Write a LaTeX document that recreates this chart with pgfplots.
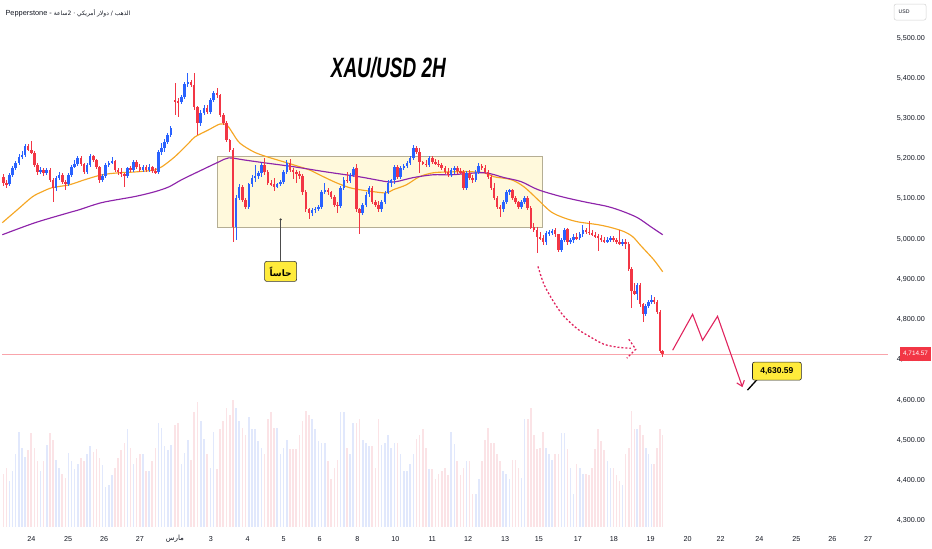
\documentclass[border=0pt]{standalone}
\usepackage{fontspec}
\setmainfont{Liberation Sans}
\newfontfamily\arabicfont[Script=Arabic]{DejaVu Sans}
\usepackage{pgfplots}
\pgfplotsset{compat=1.18}
\usepackage{pgfplotstable}
\usetikzlibrary{arrows.meta}
\TeXXeTstate=1
\definecolor{cred}{HTML}{F23645}
\definecolor{cblue}{HTML}{2962FF}
\definecolor{maor}{HTML}{F5A623}
\definecolor{mapu}{HTML}{8E24AA}
\definecolor{vred}{HTML}{FBE3E6}
\definecolor{vblue}{HTML}{E1E8FC}
\definecolor{boxfill}{HTML}{FFF9DC}
\definecolor{boxline}{HTML}{B5AE94}
\definecolor{arrowc}{HTML}{E0245E}
\definecolor{callY}{HTML}{FFEB3B}
\definecolor{txt}{HTML}{131722}

\pgfplotstableread{
x o h l c v
1.0 5155 5163 5133 5140 40
4.1 5140 5146 5128 5136 45
7.2 5136 5165 5133 5160 35
10.3 5160 5182 5155 5177 42
13.4 5177 5195 5172 5190 55
16.6 5190 5212 5185 5205 72
19.7 5205 5218 5200 5210 60
22.8 5210 5237 5205 5232 53
25.9 5232 5237 5218 5222 58
29.0 5222 5244 5212 5215 71
32.1 5215 5220 5180 5185 60
35.2 5185 5190 5160 5168 50
38.3 5168 5180 5162 5172 42
41.4 5172 5177 5158 5165 50
44.5 5165 5178 5160 5172 62
47.7 5172 5176 5143 5148 71
50.8 5148 5152 5092 5128 66
53.9 5128 5158 5120 5153 51
57.0 5153 5166 5148 5160 45
60.1 5160 5164 5138 5143 40
63.2 5143 5146 5123 5138 37
66.3 5138 5164 5132 5160 56
69.4 5160 5185 5155 5180 50
72.5 5180 5197 5176 5187 44
75.6 5187 5208 5182 5202 48
78.8 5202 5206 5182 5187 52
81.9 5187 5190 5162 5168 50
85.0 5168 5190 5162 5185 55
88.1 5185 5212 5180 5207 61
91.2 5207 5210 5192 5197 57
94.3 5197 5200 5175 5180 59
97.4 5180 5183 5140 5148 52
100.5 5148 5163 5143 5158 47
103.6 5158 5190 5153 5185 30
106.7 5185 5195 5180 5190 32
109.9 5190 5205 5186 5195 39
113.0 5195 5197 5168 5173 45
116.1 5173 5177 5160 5168 52
119.2 5168 5178 5155 5162 58
122.3 5162 5165 5130 5156 64
125.4 5156 5180 5152 5177 74
128.5 5177 5182 5168 5173 60
131.6 5173 5197 5168 5192 48
134.7 5192 5196 5175 5180 52
137.8 5180 5187 5166 5172 55
141.0 5172 5185 5168 5180 55
144.1 5180 5185 5168 5172 42
147.2 5172 5187 5168 5180 42
150.3 5180 5183 5165 5170 50
153.4 5170 5178 5163 5166 60
156.5 5166 5222 5163 5217 79
159.6 5217 5240 5210 5227 75
162.7 5227 5248 5216 5242 61
165.8 5242 5265 5237 5259 58
168.9 5259 5282 5254 5277 62
173.0 5346 5388 5309 5343 77
176.2 5343 5350 5304 5340 79
179.5 5340 5358 5335 5353 48
182.7 5353 5390 5348 5386 56
185.9 5386 5413 5378 5390 66
189.2 5390 5395 5378 5383 51
192.4 5383 5413 5322 5329 87
195.6 5329 5332 5259 5289 95
198.9 5289 5320 5282 5314 80
202.1 5314 5333 5308 5327 67
205.4 5327 5333 5310 5316 55
208.6 5316 5352 5310 5346 45
211.8 5346 5368 5340 5363 72
215.1 5363 5376 5352 5358 44
218.3 5358 5362 5304 5309 74
221.5 5309 5313 5284 5289 80
224.8 5289 5294 5242 5247 90
228.0 5247 5250 5217 5222 85
231.2 5222 5226 4994 5031 96
234.4 5031 5110 4998 5103 90
237.5 5103 5138 5098 5130 80
240.7 5130 5135 5093 5098 75
243.9 5098 5103 5076 5081 70
247.1 5081 5140 5076 5136 83
250.2 5136 5160 5130 5153 74
253.4 5153 5185 5143 5157 74
256.6 5157 5170 5150 5165 65
259.8 5165 5190 5155 5185 60
262.9 5185 5202 5160 5168 55
266.1 5168 5172 5135 5140 82
269.3 5140 5148 5132 5136 87
272.5 5136 5152 5120 5130 75
275.6 5130 5140 5126 5136 75
278.8 5136 5148 5132 5143 55
282.0 5143 5173 5138 5168 60
285.2 5168 5196 5163 5190 66
288.3 5190 5198 5168 5173 59
291.5 5173 5177 5150 5166 59
294.7 5166 5172 5140 5161 59
297.9 5161 5170 5150 5157 70
301.0 5157 5162 5110 5118 80
304.2 5118 5122 5068 5074 88
307.4 5074 5078 5049 5066 85
310.6 5066 5078 5058 5072 82
313.7 5072 5080 5066 5076 74
316.9 5076 5086 5070 5081 65
320.1 5081 5123 5076 5118 64
323.3 5118 5140 5113 5123 64
326.4 5123 5127 5110 5116 50
329.6 5116 5120 5100 5106 36
332.8 5106 5110 5080 5086 45
336.0 5086 5092 5066 5082 51
339.1 5082 5133 5078 5128 87
342.3 5128 5155 5122 5148 87
345.5 5148 5167 5140 5144 60
348.7 5144 5165 5139 5160 55
351.8 5160 5180 5155 5175 79
355.0 5178 5187 5068 5074 79
358.2 5074 5078 5012 5066 82
361.3 5066 5090 5060 5086 66
364.5 5086 5116 5080 5111 64
367.7 5111 5133 5106 5128 61
370.8 5128 5133 5088 5093 61
374.0 5093 5098 5080 5086 45
377.2 5086 5096 5068 5074 82
380.3 5074 5098 5068 5093 62
383.5 5093 5121 5088 5116 64
386.7 5116 5146 5111 5140 70
389.8 5140 5150 5130 5146 60
393.0 5146 5185 5138 5180 64
396.2 5180 5185 5150 5155 64
399.3 5155 5183 5150 5177 55
402.5 5177 5187 5172 5182 42
405.7 5182 5195 5177 5190 42
408.8 5190 5207 5185 5202 48
412.0 5202 5235 5197 5227 55
415.2 5227 5232 5212 5217 67
418.3 5217 5226 5165 5192 70
421.5 5192 5195 5185 5188 74
424.7 5188 5196 5180 5184 60
427.8 5184 5207 5180 5202 44
431.0 5202 5206 5188 5192 44
434.2 5192 5200 5185 5188 36
437.3 5188 5196 5180 5184 40
440.5 5184 5190 5172 5177 42
443.7 5177 5183 5163 5168 45
446.8 5168 5177 5155 5160 39
450.0 5160 5178 5155 5173 72
453.1 5173 5182 5163 5177 63
456.1 5177 5182 5163 5170 50
459.2 5170 5178 5163 5166 39
462.3 5166 5172 5122 5128 45
465.3 5128 5170 5122 5165 50
468.4 5165 5172 5148 5153 50
471.5 5153 5160 5140 5148 25
474.6 5148 5172 5143 5168 25
477.6 5168 5190 5163 5183 36
480.7 5183 5188 5172 5177 50
483.8 5177 5185 5163 5168 66
486.8 5168 5172 5150 5155 75
489.9 5155 5160 5122 5128 64
493.0 5128 5140 5098 5103 64
496.0 5103 5108 5076 5081 55
499.1 5081 5086 5054 5074 50
502.2 5074 5098 5068 5093 42
505.2 5093 5123 5088 5118 40
508.3 5118 5125 5110 5121 36
511.4 5121 5124 5098 5103 51
514.4 5103 5108 5088 5093 51
517.5 5093 5096 5076 5081 45
520.6 5081 5098 5076 5093 37
523.6 5093 5108 5088 5103 82
526.7 5103 5108 5073 5078 82
529.8 5078 5082 5024 5029 90
532.8 5029 5040 5018 5022 70
535.9 5022 5030 4966 5006 59
539.0 5006 5018 4998 5002 60
542.0 5002 5010 4985 4992 72
545.1 4992 5020 4985 5016 60
548.2 5014 5022 5008 5018 55
551.2 5016 5024 5010 5021 51
554.3 5024 5028 5006 5012 55
557.4 5012 5014 4968 4974 55
560.4 4974 5004 4968 4999 71
563.5 4999 5029 4994 5024 71
566.6 5024 5028 4986 4992 59
569.7 4992 5004 4987 4999 45
572.7 4999 5012 4990 5006 25
575.8 5006 5016 4999 5002 48
578.9 5002 5018 4998 5012 45
581.9 5012 5036 5006 5024 40
585.0 5024 5029 5012 5019 40
588.1 5019 5044 5010 5015 39
591.1 5015 5024 5008 5011 45
594.2 5011 5018 5004 5007 59
597.3 5007 5012 4970 5002 74
600.3 5002 5010 4994 4998 65
603.4 4998 5006 4990 4994 58
606.5 4994 5006 4990 4998 50
609.5 4998 5008 4992 5002 45
612.6 5002 5008 4994 4997 45
615.7 4997 5004 4988 4993 39
618.7 4993 5024 4986 4989 35
621.8 4989 5000 4984 4993 32
624.9 4993 5000 4975 4987 55
628.0 4987 4992 4920 4925 60
630.8 4925 4930 4830 4870 88
633.7 4870 4892 4860 4864 74
636.5 4864 4892 4850 4887 74
639.3 4887 4890 4832 4838 77
642.2 4838 4842 4795 4813 70
645.0 4813 4838 4808 4833 60
647.8 4833 4850 4828 4845 55
650.7 4845 4862 4838 4850 48
653.5 4850 4855 4840 4845 48
656.3 4845 4850 4815 4820 60
659.2 4820 4825 4716 4721 74
662.0 4721 4725 4708 4714.57 70
}\candles

\pgfplotsset{
  candle/.style n args={3}{draw=none, mark=none, forget plot,
    restrict expr to domain={\thisrow{c}-\thisrow{o}}{#1},
    error bars/.cd, y dir=both, y explicit, error mark=none,
    error bar style={draw=#2, line width=#3}},
}

\begin{document}
\begin{tikzpicture}
\begin{axis}[width=882pt, height=528pt, scale only axis,
  xmin=0, xmax=882, ymin=4285.1, ymax=5594.2,
  axis line style={draw=none}, major tick length=0pt,
  yticklabel pos=right,
  ytick={4300,4400,4500,4600,4700,4800,4900,5000,5100,5200,5300,5400,5500},
  yticklabels={{4,300.00},{4,400.00},{4,500.00},{4,600.00},{4,700.00},{4,800.00},{4,900.00},{5,000.00},{5,100.00},{5,200.00},{5,300.00},{5,400.00},{5,500.00}},
  yticklabel style={anchor=east, inner sep=0pt, xshift=43pt, font=\fontsize{7.2}{8}\selectfont, text=txt},
  xtick={29,66,102,138,173,209,246,282,318,356,394,431,467,504,538,577,613,650,687,720,759,796,832,868},
  xticklabels={24,25,26,27,{\arabicfont\beginR مارس\endR},3,4,5,6,8,10,11,12,13,15,17,18,19,20,22,24,25,26,27},
  xticklabel style={anchor=center, inner sep=0pt, yshift=-12pt, font=\fontsize{7.2}{8}\selectfont, text=txt},
  clip=false]
% volume (bars standing on the bottom of the pane)
\addplot[candle={0:100000}{vblue}{1.6pt}]
  table[x=x, y expr={4285.1+1.6364*\thisrow{v}}, y error expr={1.6364*\thisrow{v}}]{\candles};
\addplot[candle={-100000:-0.001}{vred}{1.6pt}]
  table[x=x, y expr={4285.1+1.6364*\thisrow{v}}, y error expr={1.6364*\thisrow{v}}]{\candles};
\draw[boxline, fill=boxfill, line width=0.6pt] (axis cs:216,5029) rectangle (axis cs:541,5207);
\draw[cred!45, line width=0.5pt] (axis cs:0,4714.57) -- (axis cs:888,4714.57);
% moving averages
\addplot[maor, line width=1.15pt, smooth, mark=none] coordinates {
(0,5041) (15,5073) (30,5105) (40,5118) (50,5128) (67,5135) (83,5148) (100,5160) (117,5165) (133,5167) (153,5172) (160,5180) (173,5205) (187,5239) (193,5254) (207,5272) (218,5286) (225,5284) (230,5267) (238,5239) (252,5217) (265,5205) (285,5190) (298,5180) (308,5172) (322,5155) (335,5140) (348,5128) (358,5123) (372,5118) (385,5115) (392,5123) (405,5135) (418,5155) (432,5165) (448,5167) (465,5168) (483,5165) (493,5155) (510,5148) (523,5130) (537,5098) (550,5068) (563,5053) (577,5043) (597,5036) (610,5029) (623,5019) (632,5006) (640,4984) (653,4949) (662,4919)};
\addplot[mapu, line width=1.15pt, smooth, mark=none] coordinates {
(0,5011) (33,5041) (67,5066) (77,5073) (100,5091) (133,5106) (153,5118) (167,5130) (180,5148) (200,5172) (217,5192) (227,5202) (242,5197) (262,5190) (292,5180) (325,5167) (358,5155) (385,5143) (395,5143) (412,5153) (432,5160) (450,5160) (483,5165) (503,5153) (520,5143) (537,5123) (560,5106) (583,5093) (607,5081) (623,5068) (637,5053) (650,5031) (662,5011)};
% wicks
\addplot[candle={0:100000}{cblue}{0.75pt}]
  table[x=x, y expr={(\thisrow{h}+\thisrow{l})/2}, y error expr={(\thisrow{h}-\thisrow{l})/2}]{\candles};
\addplot[candle={-100000:-0.001}{cred}{0.75pt}]
  table[x=x, y expr={(\thisrow{h}+\thisrow{l})/2}, y error expr={(\thisrow{h}-\thisrow{l})/2}]{\candles};
% bodies
\addplot[candle={0:100000}{cblue}{2.5pt}]
  table[x=x, y expr={(\thisrow{o}+\thisrow{c})/2}, y error expr={abs(\thisrow{c}-\thisrow{o})/2}]{\candles};
\addplot[candle={-100000:-0.001}{cred}{2.5pt}]
  table[x=x, y expr={(\thisrow{o}+\thisrow{c})/2}, y error expr={abs(\thisrow{c}-\thisrow{o})/2}]{\candles};
% annotations in pixel units measured from the top-left corner of the chart
\begin{scope}[shift={(axis cs:0,5594.2)}, x=1pt, y=-1pt]
\path (0,0) rectangle (932,550);
\node[anchor=west, inner sep=0pt, text=txt] at (3,13) {\fontsize{7.4}{8}\selectfont Pepperstone - {\arabicfont\fontsize{6}{7}\selectfont\beginR الذهب / دولار أمريكي · 2ساعة\endR}};
\draw[black!18, line width=0.5pt, rounded corners=2pt] (894,4) rectangle (926,20);
\node[inner sep=0pt, text=txt] at (904,12) {\fontsize{5.2}{6}\selectfont USD};
\node[inner sep=0pt] at (387,68) {\scalebox{0.68}[1]{\fontsize{28}{30}\selectfont\bfseries\itshape XAU/USD 2H}};
\fill[cred] (900,348) rectangle (931,362);
\node[inner sep=0pt, text=white] at (915.5,355) {\fontsize{6.4}{7}\selectfont 4,714.57};
\fill[black!75] (279,220) circle (1.2pt);
\draw[black!70, line width=0.7pt] (279,220) -- (279,262);
\draw[black!80, fill=callY, line width=0.6pt, rounded corners=2pt] (263,262) rectangle (295,282);
\node[inner sep=0pt] at (279,272) {\arabicfont\bfseries\fontsize{9}{10}\selectfont\beginR حاساً\endR};
\draw[arrowc, line width=1.3pt, dash pattern=on 2pt off 2pt] plot[smooth] coordinates {(537,267) (543,285) (553,303) (563,317) (577,330) (590,338) (603,345) (617,348) (630,349)};
\draw[arrowc, line width=1.3pt, dash pattern=on 2pt off 2pt] (628,340) -- (635,350) -- (626,359);
\draw[arrowc, line width=1.1pt, -{Straight Barb[length=5pt,width=8pt]}] (672,351) -- (692,315) -- (702,341) -- (717,317) -- (742,388);
\draw[black, line width=1.3pt] (757,380) -- (747,391);
\draw[black!85, fill=callY, line width=0.6pt, rounded corners=2pt] (752,363) rectangle (801,381);
\node[inner sep=0pt] at (776.5,372) {\fontsize{8.5}{9}\selectfont\bfseries 4,630.59};
\end{scope}
\end{axis}
\end{tikzpicture}
\end{document}
